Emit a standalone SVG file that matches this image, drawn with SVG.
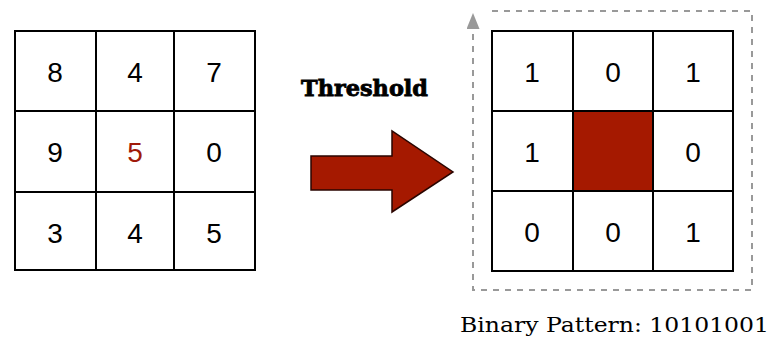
<svg xmlns="http://www.w3.org/2000/svg" width="771" height="338" viewBox="0 0 771 338">
<style>
.grid{fill:#fff;stroke:#000;stroke-width:2}
.ln{stroke:#000;stroke-width:2}
.num{font-family:"Liberation Sans",Arial,sans-serif;font-size:28px;text-anchor:middle;fill:#000}
.lbl{font-family:"DejaVu Serif",serif}
</style>
<defs>
<marker id="ah" viewBox="0 0 16 13" refX="0" refY="6.5" markerWidth="16" markerHeight="13" markerUnits="userSpaceOnUse" orient="auto">
<path d="M0,0 L16,6.5 L0,13 Z" fill="#999"/>
</marker>
</defs>
<g id="input-grid">
<rect class="grid" x="15" y="31" width="240" height="239"/>
<line class="ln" x1="96" y1="31" x2="96" y2="270"/>
<line class="ln" x1="174" y1="31" x2="174" y2="270"/>
<line class="ln" x1="15" y1="111" x2="255" y2="111"/>
<line class="ln" x1="15" y1="192" x2="255" y2="192"/>
<text class="num" x="55" y="82">8</text>
<text class="num" x="135" y="82">4</text>
<text class="num" x="214" y="82">7</text>
<text class="num" x="55" y="162">9</text>
<text class="num" x="135" y="162" style="fill:#a01a0a">5</text>
<text class="num" x="214" y="162">0</text>
<text class="num" x="55" y="243">3</text>
<text class="num" x="135" y="243">4</text>
<text class="num" x="214" y="243">5</text>
</g>
<g id="threshold">
<text class="lbl" x="301" y="96" font-size="22" font-weight="bold" stroke="#000" stroke-width="0.8" textLength="127" lengthAdjust="spacingAndGlyphs">Threshold</text>
<path d="M311,156 L392,156 L392,131 L453,172 L392,212 L392,190 L311,190 Z" fill="#a51900" stroke="#2a0500" stroke-width="1.5"/>
</g>
<g id="output-grid">
<rect class="grid" x="492" y="31" width="241" height="240"/>
<rect x="573" y="111" width="80" height="80" fill="#a51900"/>
<line class="ln" x1="573" y1="31" x2="573" y2="271"/>
<line class="ln" x1="653" y1="31" x2="653" y2="271"/>
<line class="ln" x1="492" y1="111" x2="733" y2="111"/>
<line class="ln" x1="492" y1="191" x2="733" y2="191"/>
<text class="num" x="532" y="82">1</text>
<text class="num" x="613" y="82">0</text>
<text class="num" x="693" y="82">1</text>
<text class="num" x="532" y="162">1</text>
<text class="num" x="693" y="162">0</text>
<text class="num" x="532" y="242">0</text>
<text class="num" x="613" y="242">0</text>
<text class="num" x="693" y="242">1</text>
</g>
<g id="connectors">
<path d="M492,11 L752,11 L752,290 L473,290 L473,29" fill="none" stroke="#999" stroke-width="2" stroke-dasharray="6,6" marker-end="url(#ah)"/>
</g>
<g id="pattern-label">
<text class="lbl" x="460" y="332" font-size="21" textLength="309" lengthAdjust="spacingAndGlyphs">Binary Pattern: 10101001</text>
</g>
</svg>
